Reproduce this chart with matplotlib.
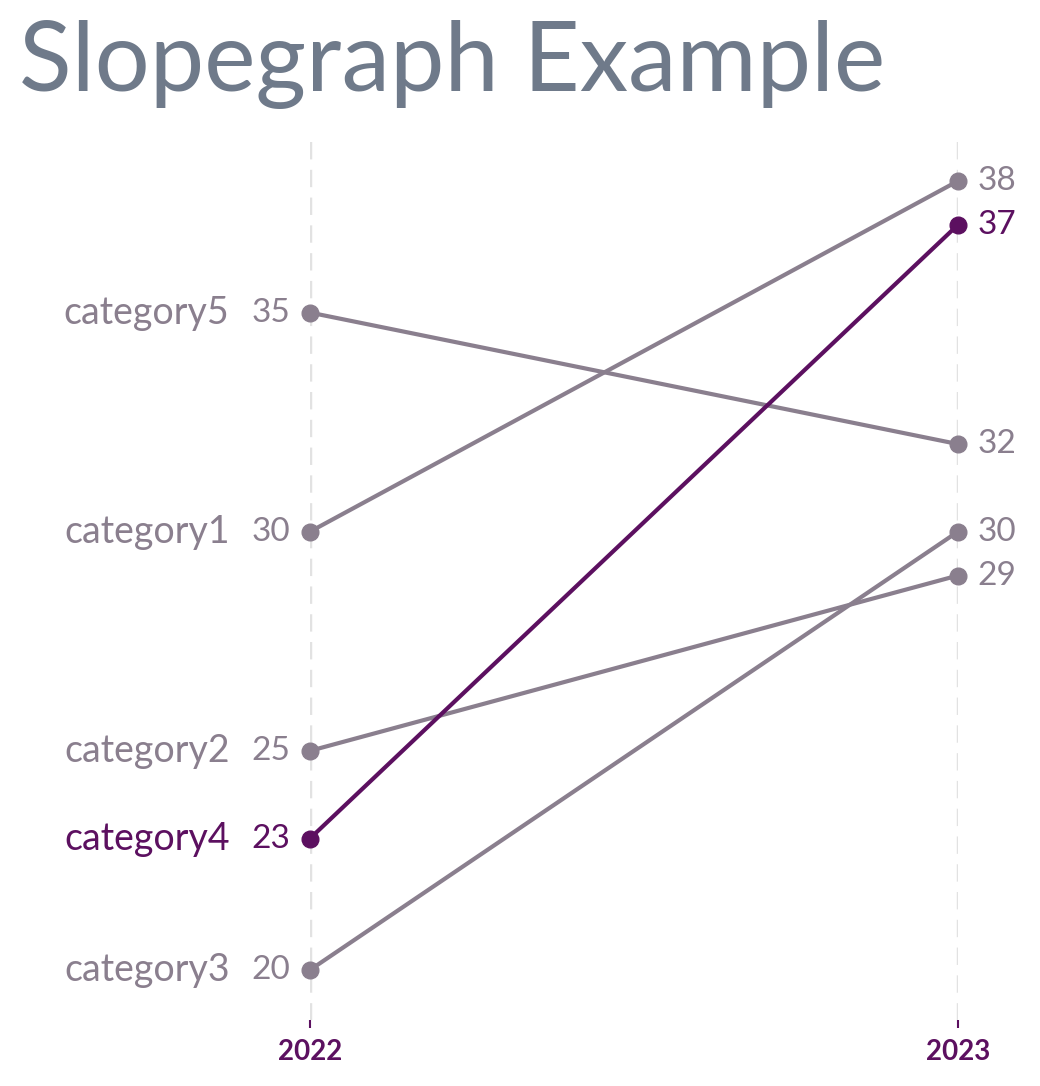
import matplotlib.pyplot as plt

categories = ["category1", "category2", "category3", "category4", "category5"]
values_2022 = [30, 25, 20, 23, 35]
values_2023 = [38, 29, 30, 37, 32]
years = ["2022", "2023"]
highlight = "category4"

grey = "#8a7f8e"
purple = "#5c1060"

plt.rcParams['font.family'] = ['Lato', 'DejaVu Sans']

fig = plt.figure(figsize=(10.4, 10.86), dpi=100)
ax = fig.add_axes([0.298, 0.0608, 0.623, 0.810])
ax.set_xlim(0, 1)
ax.set_ylim(18.86, 38.93)

for x in [0, 1]:
    ax.axvline(x, color="#e2e2e2", lw=2.5, ls=(0, (5, 3)), zorder=0)

for cat, a, b in zip(categories, values_2022, values_2023):
    c = purple if cat == highlight else grey
    z = 3 if cat == highlight else 2
    ax.plot([0, 1], [a, b], color=c, lw=3, marker="o", ms=12, zorder=z, clip_on=False)
    ax.text(-0.03, a, str(a), color=c, fontsize=24, ha="right", va="center")
    ax.text(-0.124, a, cat, color=c, fontsize=27, ha="right", va="center")
    ax.text(1.03, b, str(b), color=c, fontsize=24, ha="left", va="center")

ax.set_xticks([0, 1])
ax.set_xticklabels(years, color=purple, fontsize=20, fontweight="bold")
ax.tick_params(axis="x", length=6, color=purple, width=1.5, pad=8)
ax.set_yticks([])
for s in ax.spines.values():
    s.set_visible(False)

fig.text(0.018, 0.916, "Slopegraph Example", color="#6f7a8a", fontsize=70, ha="left", va="baseline")

fig.savefig("out.png")
